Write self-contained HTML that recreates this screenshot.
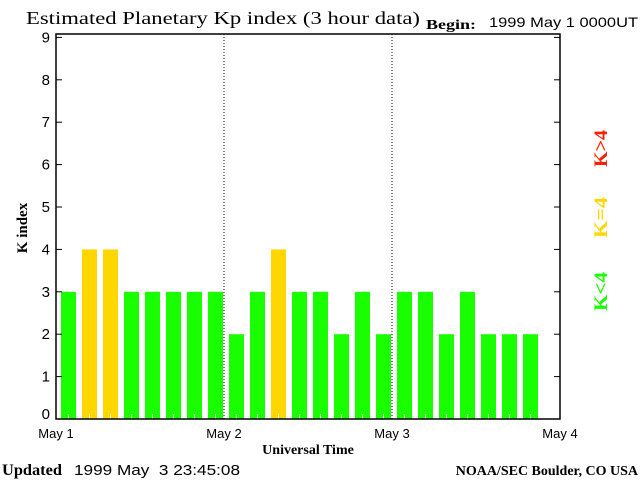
<!DOCTYPE html>
<html><head><meta charset="utf-8"><style>
body{margin:0;background:#fff}
svg{display:block}
text{font-family:"Liberation Sans",sans-serif}
.serif{font-family:"Liberation Serif",serif}
</style></head><body>
<svg id="chart" width="640" height="480" viewBox="0 0 640 480">
<text class="serif" x="26" y="24" font-size="18" textLength="394" lengthAdjust="spacingAndGlyphs">Estimated Planetary Kp index (3 hour data)</text>
<text class="serif" x="426" y="29" font-size="14" font-weight="bold" textLength="50" lengthAdjust="spacingAndGlyphs">Begin:</text>
<text x="489" y="27" font-size="14" textLength="149" lengthAdjust="spacingAndGlyphs">1999 May 1 0000UT</text>
<g id="bars"></g>
<g id="axes"></g>
<text class="serif" transform="translate(27,228) rotate(-90)" text-anchor="middle" font-size="15" font-weight="bold">K index</text>
<text class="serif" x="308" y="454" text-anchor="middle" font-size="14" font-weight="bold">Universal Time</text>
<text class="serif" transform="translate(607,167) rotate(-90)" font-size="19" font-weight="bold" fill="#ff2000" textLength="37" lengthAdjust="spacingAndGlyphs">K&gt;4</text>
<text class="serif" transform="translate(607,238) rotate(-90)" font-size="19" font-weight="bold" fill="#ffd700" textLength="41" lengthAdjust="spacingAndGlyphs">K=4</text>
<text class="serif" transform="translate(607,311) rotate(-90)" font-size="19" font-weight="bold" fill="#1aff00" textLength="39" lengthAdjust="spacingAndGlyphs">K&lt;4</text>
<text class="serif" x="2" y="475" font-size="16" font-weight="bold" textLength="60" lengthAdjust="spacingAndGlyphs">Updated</text>
<text x="74" y="475" font-size="15" textLength="166" lengthAdjust="spacingAndGlyphs" xml:space="preserve">1999 May  3 23:45:08</text>
<text class="serif" x="638" y="475" text-anchor="end" font-size="14" font-weight="bold">NOAA/SEC Boulder, CO USA</text>
</svg>
<script>
const kpValues=[3,4,4,3,3,3,3,3, 2,3,4,3,3,2,3,2, 3,3,2,3,2,2,2];
const yTicks=[0,1,2,3,4,5,6,7,8,9];
const dayLabels=["May 1","May 2","May 3","May 4"];
const NS="http://www.w3.org/2000/svg";
const X0=56,X1=560,Y0=419,YTOP=34,UNIT=42.4,BINS=24;
const xs=i=>X0+(X1-X0)*i/BINS;
const ys=v=>Y0-v*UNIT;
function mk(tag,attrs,parent){const e=document.createElementNS(NS,tag);for(const k in attrs)e.setAttribute(k,attrs[k]);parent.appendChild(e);return e;}
const bars=document.getElementById('bars'),axes=document.getElementById('axes');
kpValues.forEach((v,i)=>{
  const c=v<4?'#1aff00':(v===4?'#ffd700':'#ff2000');
  const r=mk('rect',{x:xs(i)+5,y:ys(v),width:15,height:Y0-ys(v),fill:c},bars);
  
  
  const t=mk('line',{x1:xs(i)+12.5,x2:xs(i)+12.5,y1:Y0-5,y2:Y0,stroke:'#fff','stroke-width':1},bars);
  
  
});
[1,2].forEach(d=>{
  const l=mk('line',{x1:xs(d*8),x2:xs(d*8),y1:YTOP,y2:Y0,stroke:'#000','stroke-dasharray':'1,2'},axes);
  
  
});
const f=mk('rect',{x:X0,y:YTOP,width:X1-X0,height:Y0-YTOP,fill:'none',stroke:'#000','stroke-width':1.5},axes);


yTicks.forEach(v=>{
  const y=ys(v);
  mk('line',{x1:X0,x2:X0+6,y1:y,y2:y,stroke:'#000'},axes);
  mk('line',{x1:X1-6,x2:X1,y1:y,y2:y,stroke:'#000'},axes);
  const t=mk('text',{x:X0-6,y:Math.min(y+5,Y0),'text-anchor':'end','font-size':15},axes);
  t.textContent=v;
  
  
});
dayLabels.forEach((d,i)=>{
  const t=mk('text',{x:xs(i*8),y:438,'text-anchor':'middle','font-size':13},axes);
  t.textContent=d;
  
  
});
</script>
</body></html>
